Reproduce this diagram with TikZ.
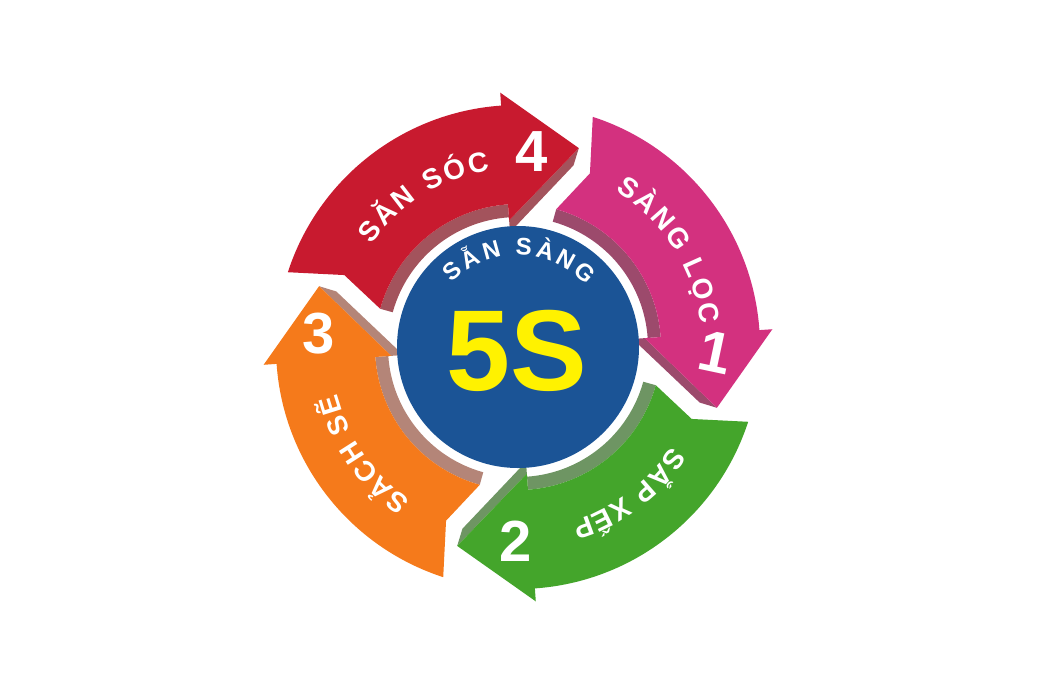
\documentclass[tikz,border=0pt]{standalone}
\usepackage{fontspec}
\setmainfont{Liberation Sans}
\usetikzlibrary{decorations.text}
\definecolor{redA}{HTML}{C81A2F}
\definecolor{redS}{HTML}{A3535C}
\definecolor{pinkA}{HTML}{D3317F}
\definecolor{pinkS}{HTML}{9C4A6C}
\definecolor{greenA}{HTML}{44A52B}
\definecolor{greenS}{HTML}{6E9563}
\definecolor{orangeA}{HTML}{F57A1B}
\definecolor{orangeS}{HTML}{B48578}
\definecolor{hubblue}{HTML}{1B5496}
\definecolor{fiveyellow}{HTML}{FFF200}
% one bent arrow of the ring, #1 = angle of its tail
\newcommand{\ringarrow}[1]{%
  ({#1}:242) arc[start angle={#1}, end angle={#1-68}, radius=242]
  -- ({#1-68}:255) -- ({#1-89}:208) -- ({#1-68}:127) -- ({#1-68}:143)
  arc[start angle={#1-68}, end angle={#1+2.5}, radius=143]
  -- ({#1-4.5}:188) -- cycle}
% its raised side, seen along the inner edge
\newcommand{\ringside}[1]{%
  ({#1-89}:208) -- ({#1-68}:127) -- ({#1-68}:143)
  arc[start angle={#1-68}, end angle={#1+2.5}, radius=143]
  -- ({#1+2.5}:130) arc[start angle={#1+2.5}, end angle={#1-68}, radius=130]
  -- ({#1-68}:115) -- ({#1-89}:190) -- cycle}
\newcommand{\labelfont}{\fontsize{28}{28}\selectfont\bfseries}
\newcommand{\hubfont}{\fontsize{24}{24}\selectfont\bfseries}

\begin{document}
\begin{tikzpicture}[x=1pt,y=1pt,
  ringlabel/.style={decorate,
    decoration={text along path, text color=white, text align={fit to path}}},
  stepnum/.style={text=white, inner sep=0pt, font=\fontsize{58}{58}\selectfont\bfseries}]
  \useasboundingbox (-518,-347) rectangle (538,347);
  % raised sides
  \foreach \t/\side in {72/pinkS,-18/greenS,-108/orangeS,162/redS}
    \fill[\side] \ringside{\t};
  % arrow faces
  \foreach \t/\face in {72/pinkA,-18/greenA,-108/orangeA,162/redA}
    \fill[\face] \ringarrow{\t};
  % hub
  \node[circle, fill=hubblue, minimum size=242pt, inner sep=0pt] (hub) at (0,0) {};
  \node[text=fiveyellow, inner sep=0pt, font=\fontsize{115}{115}\selectfont\bfseries]
    (fives) at (-1,-4) {5S};
  \path[ringlabel, decoration={text={|\hubfont|SẴN SÀNG}}]
    (136:92) arc[start angle=136, end angle=42, radius=92];
  % labels on the arrows
  \path[ringlabel, decoration={text={|\labelfont|SÀNG LỌC}}]
    (58:184) arc[start angle=58, end angle=7, radius=184];
  \path[ringlabel, decoration={text={|\labelfont|SẮP XẾP}}]
    (-33:183) arc[start angle=-33, end angle=-73, radius=183];
  \path[ringlabel, decoration={text={|\labelfont|SẢCH SẼ}}]
    (-125:187) arc[start angle=-125, end angle=-165.5, radius=187];
  \path[ringlabel, decoration={text={|\labelfont|SĂN SÓC}}]
    (145:179) arc[start angle=145, end angle=99, radius=179];
  % step numbers
  \node[stepnum, rotate=-12] (n1) at (197,-5) {1};
  \node[stepnum] (n2) at (-2,-194) {2};
  \node[stepnum] (n3) at (-199,13) {3};
  \node[stepnum] (n4) at (14,195) {4};
\end{tikzpicture}
\end{document}
